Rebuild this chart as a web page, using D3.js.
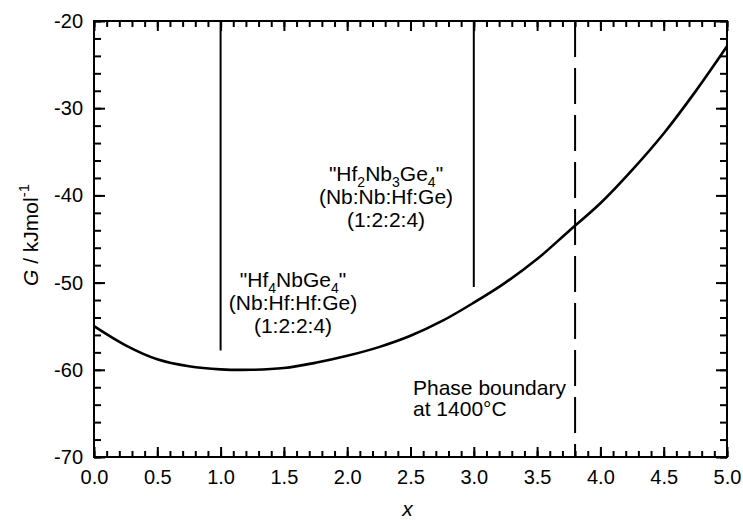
<!DOCTYPE html>
<html>
<head>
<meta charset="utf-8">
<script src="https://cdn.jsdelivr.net/npm/d3@7"></script>
<style>
  body { margin: 0; background: #fff; }
  text { font-family: "Liberation Sans", Arial, sans-serif; fill: #000; }
</style>
</head>
<body>
<svg id="chart"></svg>
<script>
// curve G(x)
const xValues = [0, 0.25, 0.5, 0.75, 1.0, 1.25, 1.5, 1.75, 2.0, 2.25, 2.5, 2.75, 3.0, 3.25, 3.5, 3.75, 4.0, 4.25, 4.5, 4.75, 5.0];
const gValues = [-55, -57.2, -58.8, -59.6, -59.95, -60, -59.8, -59.2, -58.4, -57.4, -56.1, -54.4, -52.3, -50, -47.3, -44.1, -40.9, -37.1, -32.9, -28.1, -22.9];

// vertical markers: [x, bottom G value]
const compoundLines = [[1.0, -57.8], [3.0, -50.5]];
const phaseBoundaryX = 3.8;

const xTicks = [0, 0.5, 1.0, 1.5, 2.0, 2.5, 3.0, 3.5, 4.0, 4.5, 5.0];
const yTicks = [-70, -60, -50, -40, -30, -20];
const xMinor = d3.range(0, 50.5, 1).map(d => d / 10);
const yMinor = d3.range(-70, -19, 2);

const width = 743, height = 520;
const margin = {left: 94, right: 16, top: 21, bottom: 63};

const svg = d3.select("svg#chart")
  .attr("width", width)
  .attr("height", height);

const x = d3.scaleLinear().domain([0, 5]).range([margin.left, width - margin.right]);
const y = d3.scaleLinear().domain([-70, -20]).range([height - margin.bottom, margin.top]);

const x0 = x.range()[0], x1 = x.range()[1];
const y0 = y.range()[0], y1 = y.range()[1];

function styleAxis(g) {
  g.attr("font-size", 20).attr("font-family", '"Liberation Sans", Arial, sans-serif');
  g.select(".domain").remove();
  g.selectAll("line").attr("stroke", "#000").attr("stroke-width", 2);
}

// minor ticks
svg.append("g").attr("transform", `translate(0,${y0})`)
  .call(d3.axisBottom(x).tickValues(xMinor).tickSize(-6).tickFormat("")).call(styleAxis);
svg.append("g").attr("transform", `translate(0,${y1})`)
  .call(d3.axisTop(x).tickValues(xMinor).tickSize(-6).tickFormat("")).call(styleAxis);
svg.append("g").attr("transform", `translate(${x0},0)`)
  .call(d3.axisLeft(y).tickValues(yMinor).tickSize(-7).tickFormat("")).call(styleAxis);
svg.append("g").attr("transform", `translate(${x1},0)`)
  .call(d3.axisRight(y).tickValues(yMinor).tickSize(-7).tickFormat("")).call(styleAxis);

// major ticks
svg.append("g").attr("transform", `translate(0,${y0})`)
  .call(d3.axisBottom(x).tickValues(xTicks).tickSize(-10).tickPadding(13).tickFormat(d3.format(".1f"))).call(styleAxis);
svg.append("g").attr("transform", `translate(0,${y1})`)
  .call(d3.axisTop(x).tickValues(xTicks).tickSize(-10).tickFormat("")).call(styleAxis);
svg.append("g").attr("transform", `translate(${x0},0)`)
  .call(d3.axisLeft(y).tickValues(yTicks).tickSize(-11).tickPadding(11).tickFormat(d => d)).call(styleAxis);
svg.append("g").attr("transform", `translate(${x1},0)`)
  .call(d3.axisRight(y).tickValues(yTicks).tickSize(-11).tickFormat("")).call(styleAxis);

// frame
svg.append("rect")
  .attr("x", x0).attr("y", y1)
  .attr("width", x1 - x0).attr("height", y0 - y1)
  .attr("fill", "none").attr("stroke", "#000").attr("stroke-width", 2);

// compound lines
svg.selectAll(".compound").data(compoundLines).join("line")
  .attr("class", "compound")
  .attr("x1", d => x(d[0])).attr("x2", d => x(d[0]))
  .attr("y1", y1).attr("y2", d => y(d[1]))
  .attr("stroke", "#000").attr("stroke-width", 2);

// phase boundary
svg.append("line")
  .attr("x1", x(phaseBoundaryX)).attr("x2", x(phaseBoundaryX))
  .attr("y1", y1).attr("y2", y0)
  .attr("stroke", "#000").attr("stroke-width", 2)
  .attr("stroke-dasharray", "36,11");

// curve
const pts = xValues.map((v, i) => [v, gValues[i]]);
svg.append("path")
  .datum(pts)
  .attr("fill", "none")
  .attr("stroke", "#000")
  .attr("stroke-width", 2.6)
  .attr("d", d3.line().x(d => x(d[0])).y(d => y(d[1])).curve(d3.curveCatmullRom));

// annotations
const fs = 21;
function formula(cx, baseline, parts) {
  const t = svg.append("text")
    .attr("x", cx).attr("y", baseline)
    .attr("text-anchor", "middle")
    .attr("font-size", fs);
  let shift = 0;
  parts.forEach(p => {
    const sub = p[1] ? 6 : 0;
    t.append("tspan")
      .attr("dy", sub - shift)
      .attr("font-size", p[1] ? 14 : fs)
      .text(p[0]);
    shift = sub;
  });
}
function plainText(cx, baseline, s, anchor) {
  svg.append("text")
    .attr("x", cx).attr("y", baseline)
    .attr("text-anchor", anchor || "middle")
    .attr("font-size", fs)
    .text(s);
}

formula(293, 287, [['"Hf', 0], ['4', 1], ['NbGe', 0], ['4', 1], ['"', 0]]);
plainText(293, 310, "(Nb:Hf:Hf:Ge)");
plainText(293, 333, "(1:2:2:4)");

formula(386, 181, [['"Hf', 0], ['2', 1], ['Nb', 0], ['3', 1], ['Ge', 0], ['4', 1], ['"', 0]]);
plainText(386, 204, "(Nb:Nb:Hf:Ge)");
plainText(386, 227, "(1:2:2:4)");

plainText(413, 395, "Phase boundary", "start");
plainText(413, 416, "at 1400\u00B0C", "start");

// axis titles
svg.append("text")
  .attr("x", (x0 + x1) / 2 - 3).attr("y", 516)
  .attr("text-anchor", "middle")
  .attr("font-size", 21).attr("font-style", "italic")
  .text("x");

const yt = svg.append("text")
  .attr("transform", `translate(38,235) rotate(-90)`)
  .attr("text-anchor", "middle")
  .attr("font-size", 21);
yt.append("tspan").attr("font-style", "italic").text("G");
yt.append("tspan").text(" / kJmol");
yt.append("tspan").attr("dy", -9).attr("font-size", 15).text("-1");
</script>
</body>
</html>
